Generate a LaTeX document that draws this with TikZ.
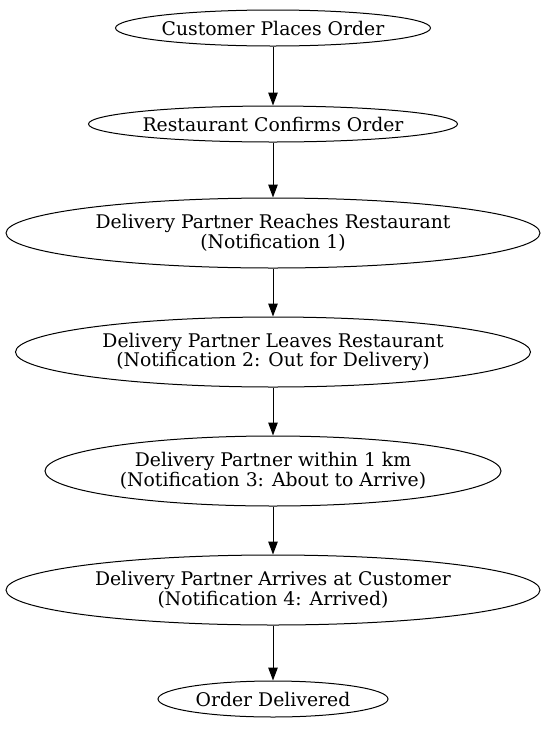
\documentclass[tikz,border=0pt]{standalone}
\usepackage{fontspec}
\setmainfont{DejaVu Serif}
\usetikzlibrary{shapes.geometric,arrows.meta}
\begin{document}
\begin{tikzpicture}[x=1pt,y=-1pt,
  st/.style={ellipse,draw,line width=1pt,inner sep=0pt,align=center,
    font=\fontsize{18.8}{19.5}\selectfont},
  arr/.style={-{Triangle[length=13pt,width=9.5pt]},line width=1pt}]
\useasboundingbox (0,0) rectangle (546,729);
\node[st,minimum width=315pt,minimum height=36pt] (a) at (273,28) {Customer Places Order};
\node[st,minimum width=367pt,minimum height=36pt] (b) at (273,124) {Restaurant Confirms Order};
\node[st,minimum width=534pt,minimum height=70pt] (c) at (273,233) {Delivery Partner Reaches Restaurant\\(Notification 1)};
\node[st,minimum width=515pt,minimum height=70pt] (d) at (273,352) {Delivery Partner Leaves Restaurant\\(Notification 2: Out for Delivery)};
\node[st,minimum width=456pt,minimum height=70pt] (e) at (273,471) {Delivery Partner within 1 km\\(Notification 3: About to Arrive)};
\node[st,minimum width=534pt,minimum height=70pt] (f) at (273,590) {Delivery Partner Arrives at Customer\\(Notification 4: Arrived)};
\node[st,minimum width=230pt,minimum height=36pt] (g) at (273,699) {Order Delivered};
\draw[arr] (a) -- (b);
\draw[arr] (b) -- (c);
\draw[arr] (c) -- (d);
\draw[arr] (d) -- (e);
\draw[arr] (e) -- (f);
\draw[arr] (f) -- (g);
\end{tikzpicture}
\end{document}
